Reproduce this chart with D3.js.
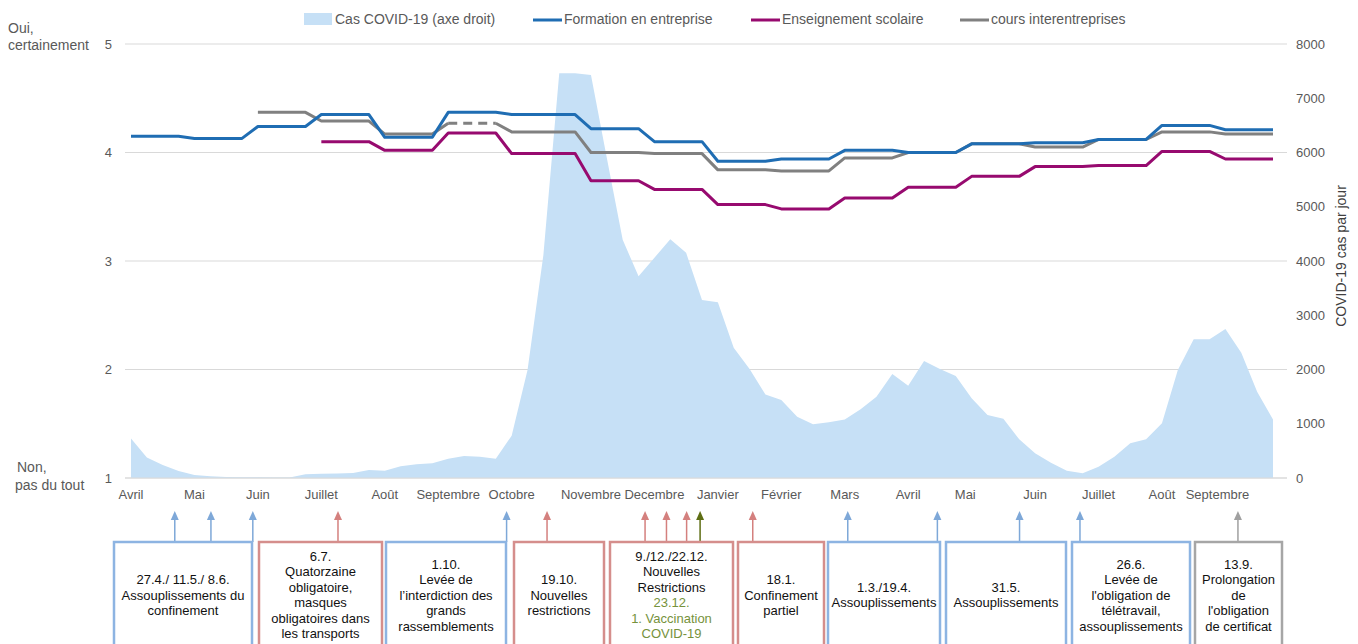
<!DOCTYPE html>
<html>
<head>
<meta charset="utf-8">
<script src="https://cdn.jsdelivr.net/npm/d3@7"></script>
<style>
  html, body { margin: 0; padding: 0; background: #fff; }
  svg { display: block; font-family: "Liberation Sans", Arial, sans-serif; }
</style>
</head>
<body>
<svg id="chart" width="1358" height="644"></svg>
<script>
// ---------------- DATA ----------------
// Month labels and the week index where each month starts (weekly axis, Apr 2020 – Sep 2021)
const monthLabels = ["Avril","Mai","Juin","Juillet","Août","Septembre","Octobre","Novembre","Decembre",
  "Janvier","Février","Mars","Avril","Mai","Juin","Juillet","Août","Septembre"];
const monthStart = [0,4,8,12,16,20,24,29,33,37,41,45,49,53,57,61,65,69];
const labelPos   = [0,4,8,12,16,20,24,29,33,37,41,45,49,52.6,57,61,65,68.5];
const lastWeek = 72;

// Monthly survey means (1 = Non, pas du tout ... 5 = Oui, certainement)
const formationEntreprise = [4.15,4.13,4.24,4.35,4.14,4.37,4.35,4.22,4.10,3.92,3.94,4.02,4.00,4.08,4.09,4.12,4.25,4.21];
const enseignementScolaire = [null,null,null,4.10,4.02,4.18,3.99,3.74,3.66,3.52,3.48,3.58,3.68,3.78,3.87,3.88,4.01,3.94];
const coursInterentreprises = [null,null,4.37,4.29,4.17,4.27,4.19,4.00,3.99,3.84,3.83,3.95,4.00,4.08,4.05,4.12,4.19,4.17];
const coursEstimated = [false,false,false,false,false,true,false,false,false,false,false,false,false,false,false,false,false,false];

// Weekly COVID-19 cases per day (right axis), weeks 0..72
const covidCases = [730,380,240,130,55,30,20,15,12,10,10,68,80,85,92,147,135,215,252,270,356,405,393,356,
  780,1990,4110,7460,7460,7430,5900,4390,3720,4060,4400,4150,3280,3240,2400,2010,1540,1440,1130,990,1026,
  1080,1266,1500,1917,1700,2156,2010,1880,1470,1160,1090,713,455,282,135,87,208,393,640,713,1010,1990,
  2556,2556,2746,2310,1590,1080];

const leftTicks = [1,2,3,4,5];
const rightTicks = [0,1000,2000,3000,4000,5000,6000,7000,8000];

// Events (week index of the measure) and their annotation boxes
const eventWeeks = [2.76,5.04,7.68,13.05,23.68,26.23,32.41,33.76,35.03,35.88,39.2,45.19,50.84,56.02,59.83,69.79];
const eventKinds = ["relax","relax","relax","restr","relax","restr","restr","restr","restr","vacc","restr","relax","relax","relax","relax","cert"];
const eventBox   = [0,0,0,1,2,3,4,4,4,4,5,6,6,7,8,9];

const boxKinds = ["relax","restr","relax","restr","restr","restr","relax","relax","relax","cert"];
const boxTexts = [
  [["27.4./ 11.5./ 8.6."],["Assouplissements du"],["confinement"]],
  [["6.7."],["Quatorzaine"],["obligatoire,"],["masques"],["obligatoires dans"],["les transports"]],
  [["1.10."],["Levée de"],["l’interdiction des"],["grands"],["rassemblements"]],
  [["19.10."],["Nouvelles"],["restrictions"]],
  [["9./12./22.12."],["Nouvelles"],["Restrictions"],["23.12.","vacc"],["1. Vaccination","vacc"],["COVID-19","vacc"]],
  [["18.1."],["Confinement"],["partiel"]],
  [["1.3./19.4."],["Assouplissements"]],
  [["31.5."],["Assouplissements"]],
  [["26.6."],["Levée de"],["l'obligation de"],["télétravail,"],["assouplissements"]],
  [["13.9."],["Prolongation"],["de"],["l'obligation"],["de certificat"]]
];

// ---------------- LAYOUT / STYLE ----------------
const plot = { left: 131, right: 1273, top: 44, bottom: 478, gridL: 125, gridR: 1287 };
const boxLayout = [[114,252],[259,382],[386,506],[514,604],[610,733],[738,824],[828,940],[946,1066],[1072,1190],[1195,1282]];
const boxTop = 542, arrowTip = 511;
const kindStroke = { relax: "#8db4e2", restr: "#d58e8c", vacc: "#5e6e14", cert: "#a6a6a6" };
const kindArrow  = { relax: "#7ea8d8", restr: "#d4807e", vacc: "#5e6e14", cert: "#a0a0a0" };
const textGrey = "#595959";

const svg = d3.select("#chart");
const x = d3.scaleLinear().domain([0, lastWeek]).range([plot.left, plot.right]);
const yL = d3.scaleLinear().domain([1, 5]).range([plot.bottom, plot.top]);
const yR = d3.scaleLinear().domain([0, 8000]).range([plot.bottom, plot.top]);

// gridlines
svg.append("g").selectAll("line").data(leftTicks).join("line")
  .attr("x1", plot.gridL).attr("x2", plot.gridR)
  .attr("y1", d => yL(d)).attr("y2", d => yL(d))
  .attr("stroke", "#d9d9d9").attr("stroke-width", 1.2);

// COVID area
const area = d3.area().x((d, i) => x(i)).y0(yR(0)).y1(d => yR(d));
svg.append("path").datum(covidCases).attr("d", area).attr("fill", "#c6e0f6");

// bottom axis line
svg.append("line").attr("x1", plot.gridL).attr("x2", plot.gridR)
  .attr("y1", yL(1)).attr("y2", yL(1)).attr("stroke", "#d9d9d9").attr("stroke-width", 1.2);

// step-like monthly lines
function buildSegments(values, estimated) {
  const segs = [];
  let prev = null;
  values.forEach((v, m) => {
    if (v == null) { prev = null; return; }
    const s = monthStart[m];
    const e = m < monthStart.length - 1 ? monthStart[m + 1] - 1 : lastWeek;
    const p0 = [s, v], p1 = [e, v];
    if (prev) segs.push({ a: prev, b: p0, dashed: false });
    segs.push({ a: p0, b: p1, dashed: !!(estimated && estimated[m]) });
    prev = p1;
  });
  // group consecutive segments with same style
  const groups = [];
  segs.forEach(sg => {
    const g = groups[groups.length - 1];
    if (g && g.dashed === sg.dashed && g.pts[g.pts.length - 1] === sg.a) g.pts.push(sg.b);
    else groups.push({ dashed: sg.dashed, pts: [sg.a, sg.b] });
  });
  return groups;
}
const line = d3.line().x(d => x(d[0])).y(d => yL(d[1]));
const series = [
  { values: coursInterentreprises, est: coursEstimated, color: "#808080" },
  { values: enseignementScolaire, est: null, color: "#970a6f" },
  { values: formationEntreprise, est: null, color: "#1f6db3" }
];
series.forEach(s => {
  buildSegments(s.values, s.est).forEach(g => {
    svg.append("path").attr("d", line(g.pts)).attr("fill", "none")
      .attr("stroke", s.color).attr("stroke-width", 3)
      .attr("stroke-linejoin", "round")
      .attr("stroke-dasharray", g.dashed ? "9,6" : null);
  });
});

// left axis labels
svg.append("g").selectAll("text").data(leftTicks).join("text")
  .attr("x", 112).attr("y", d => yL(d)).attr("dy", "0.35em")
  .attr("text-anchor", "end").attr("font-size", 13).attr("fill", textGrey).text(d => d);
// right axis labels
svg.append("g").selectAll("text").data(rightTicks).join("text")
  .attr("x", 1296).attr("y", d => yR(d)).attr("dy", "0.35em")
  .attr("font-size", 13).attr("fill", textGrey).text(d => d);

// scale extremes text
const ext = [["Oui,", 8, 28], ["certainement", 8, 45], ["Non,", 17, 467], ["pas du tout", 15, 485]];
svg.append("g").selectAll("text").data(ext).join("text")
  .attr("x", d => d[1]).attr("y", d => d[2]).attr("dy", "0.35em")
  .attr("font-size", 14).attr("fill", textGrey).text(d => d[0]);

// right axis title
svg.append("text").attr("transform", "translate(1341,256) rotate(-90)")
  .attr("text-anchor", "middle").attr("dy", "0.35em")
  .attr("font-size", 14).attr("fill", "#404040").text("COVID-19 cas par jour");

// month labels
svg.append("g").selectAll("text").data(monthLabels).join("text")
  .attr("x", (d, i) => x(labelPos[i])).attr("y", 494).attr("dy", "0.35em")
  .attr("text-anchor", "middle").attr("font-size", 13).attr("fill", textGrey).text(d => d);

// legend
const lg = svg.append("g").attr("font-size", 14).attr("fill", textGrey);
lg.append("rect").attr("x", 304).attr("y", 13).attr("width", 28).attr("height", 12).attr("fill", "#c6e0f6");
lg.append("text").attr("x", 335).attr("y", 19).attr("dy", "0.35em").text("Cas COVID-19 (axe droit)");
const lgLines = [
  [533, "#1f6db3", "Formation en entreprise"],
  [751, "#970a6f", "Enseignement scolaire"],
  [960, "#808080", "cours interentreprises"]
];
lgLines.forEach(l => {
  lg.append("line").attr("x1", l[0]).attr("x2", l[0] + 29).attr("y1", 20).attr("y2", 20)
    .attr("stroke", l[1]).attr("stroke-width", 3);
  lg.append("text").attr("x", l[0] + 31).attr("y", 19).attr("dy", "0.35em").text(l[2]);
});

// event arrows
const ev = svg.append("g");
eventWeeks.forEach((w, i) => {
  const cx = x(w), col = kindArrow[eventKinds[i]];
  ev.append("line").attr("x1", cx).attr("x2", cx).attr("y1", arrowTip + 6).attr("y2", boxTop)
    .attr("stroke", col).attr("stroke-width", 1.5);
  ev.append("path").attr("d", `M${cx},${arrowTip} L${cx - 4},${arrowTip + 9} L${cx + 4},${arrowTip + 9} Z`)
    .attr("fill", col);
});

// annotation boxes
const bx = svg.append("g");
boxLayout.forEach((b, i) => {
  bx.append("rect").attr("x", b[0]).attr("y", boxTop).attr("width", b[1] - b[0]).attr("height", 130)
    .attr("fill", "#fff").attr("stroke", kindStroke[boxKinds[i]]).attr("stroke-width", 2.5);
  const lines = boxTexts[i];
  const lh = 15.5, cy = 595;
  const y0 = cy - (lines.length - 1) * lh / 2;
  lines.forEach((ln, j) => {
    bx.append("text").attr("x", (b[0] + b[1]) / 2).attr("y", y0 + j * lh).attr("dy", "0.35em")
      .attr("text-anchor", "middle").attr("font-size", 13)
      .attr("fill", ln[1] === "vacc" ? "#76923c" : "#111").text(ln[0]);
  });
});
</script>
</body>
</html>
